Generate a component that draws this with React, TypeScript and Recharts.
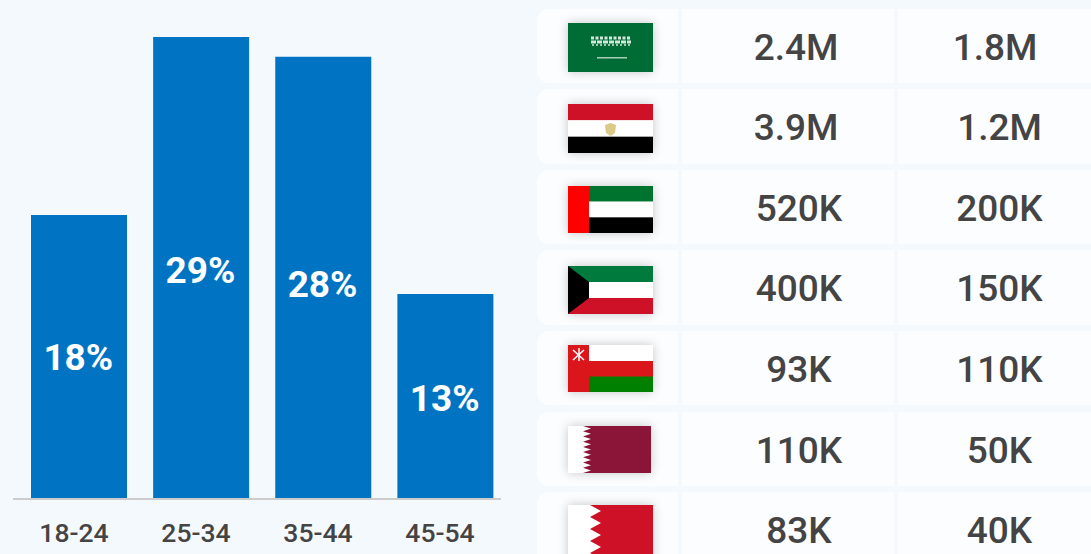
import React from "react";
import { BarChart, Bar, XAxis, YAxis, LabelList } from "recharts";

const ageGroups = ["18-24", "25-34", "35-44", "45-54"];
const agePercents = [17.8, 29, 27.75, 12.83];
const countries = ["SA", "EG", "AE", "KW", "OM", "QA", "BH"];
const firstColumn = ["2.4M", "3.9M", "520K", "400K", "93K", "110K", "83K"];
const secondColumn = ["1.8M", "1.2M", "200K", "150K", "110K", "50K", "40K"];

const chartData = ageGroups.map((age, i) => ({ age, share: agePercents[i] }));

const FONT = "Roboto, sans-serif";
const BG = "#f4f9fd";
const CELL = "#fcfdff";
const TEXT = "#444444";
const labelNudge = [1, 3, 7, 2];

const flagBoxes: Record<string, { top: number; w: number; h: number }> = {
  SA: { top: 23, w: 85, h: 49 },
  EG: { top: 104, w: 85, h: 49 },
  AE: { top: 186, w: 85, h: 47 },
  KW: { top: 266, w: 85, h: 48 },
  OM: { top: 345, w: 85, h: 47 },
  QA: { top: 426, w: 83, h: 47 },
  BH: { top: 505, w: 85, h: 60 },
};

function FlagArt({ code, w, h }: { code: string; w: number; h: number }) {
  const third = h / 3;
  if (code === "SA") {
    return (
      <g>
        <rect width={w} height={h} fill="#006c35" />
        <g stroke="#d5e6da" fill="none">
          <line x1={23} x2={63} y1={15} y2={15} strokeWidth={3} strokeDasharray="3 1.5" />
          <line x1={23} x2={63} y1={19} y2={19} strokeWidth={3} strokeDasharray="5 1" />
          <line x1={24} x2={62} y1={22} y2={22} strokeWidth={1.5} strokeDasharray="2 2" />
        </g>
        <rect x={29} y={34} width={30} height={1.5} fill="#a9cdb6" />
      </g>
    );
  }
  if (code === "EG") {
    return (
      <g>
        <rect width={w} height={third} fill="#ce1126" />
        <rect y={third} width={w} height={third} fill="#ffffff" />
        <rect y={2 * third} width={w} height={third} fill="#000000" />
        <polygon points="37,21 42.5,19 48,21 47,29 42.5,32 38,29" fill="#dcc887" />
      </g>
    );
  }
  if (code === "AE") {
    return (
      <g>
        <rect width={w} height={third} fill="#00732f" />
        <rect y={third} width={w} height={third} fill="#ffffff" />
        <rect y={2 * third} width={w} height={third} fill="#000000" />
        <rect width={21} height={h} fill="#ff0000" />
      </g>
    );
  }
  if (code === "KW") {
    return (
      <g>
        <rect width={w} height={third} fill="#007a3d" />
        <rect y={third} width={w} height={third} fill="#ffffff" />
        <rect y={2 * third} width={w} height={third} fill="#ce1126" />
        <polygon points={`0,0 21,${third} 21,${2 * third} 0,${h}`} fill="#000000" />
      </g>
    );
  }
  if (code === "OM") {
    return (
      <g>
        <rect width={w} height={h} fill="#db161b" />
        <rect x={21} width={w - 21} height={16} fill="#ffffff" />
        <rect x={21} y={31.5} width={w - 21} height={h - 31.5} fill="#008000" />
        <g stroke="#ffffff" strokeWidth={1.5}>
          <line x1={5} y1={5} x2={16} y2={15} />
          <line x1={16} y1={5} x2={5} y2={15} />
          <line x1={11} y1={3} x2={11} y2={16} />
        </g>
      </g>
    );
  }
  const zig = code === "QA" ? 9 : 5;
  const base = code === "QA" ? 15 : 22;
  const depth = code === "QA" ? 8 : 11;
  const step = h / zig / 2;
  const pts: string[] = [`${w},0`, `${w},${h}`, `${base},${h}`];
  for (let i = zig * 2 - 1; i >= 0; i--) {
    pts.push(`${i % 2 === 0 ? base : base + depth},${i * step}`);
  }
  return (
    <g>
      <rect width={w} height={h} fill="#ffffff" />
      <polygon points={pts.join(" ")} fill={code === "QA" ? "#8a1538" : "#ce1126"} />
    </g>
  );
}

function Flag({ code }: { code: string }) {
  const box = flagBoxes[code];
  return (
    <div
      style={{
        position: "absolute",
        left: 568,
        top: box.top,
        width: box.w,
        height: box.h,
        boxShadow: "0 0 10px rgba(0,0,0,0.22)",
        overflow: "hidden",
      }}
    >
      <svg width={box.w} height={box.h} style={{ display: "block", filter: "blur(0.7px)" }}>
        <FlagArt code={code} w={box.w} h={box.h} />
      </svg>
    </div>
  );
}

const renderBarLabel = (props: any) => {
  const { x, y, width, height, index, value } = props;
  return (
    <text
      x={x + width / 2 - 0.7}
      y={y + height / 2 + labelNudge[index]}
      fill="#ffffff"
      textAnchor="middle"
      dominantBaseline="central"
      fontFamily={FONT}
      fontWeight={700}
      fontSize={37}
    >
      {Math.round(value)}%
    </text>
  );
};

function Cell({ left, width, top, radius, children }: any) {
  return (
    <div
      style={{
        position: "absolute",
        left,
        top,
        width,
        height: 74.5,
        background: CELL,
        borderRadius: radius,
      }}
    >
      {children}
    </div>
  );
}

function Value({ text, center, top }: { text: string; center: number; top: number }) {
  return (
    <div
      style={{
        position: "absolute",
        left: center - 80,
        width: 160,
        top,
        height: 74.5,
        lineHeight: "78px",
        textAlign: "center",
        fontFamily: FONT,
        fontWeight: 500,
        fontSize: 37,
        color: TEXT,
      }}
    >
      {text}
    </div>
  );
}

export default function App() {
  return (
    <div
      style={{
        position: "fixed",
        left: 0,
        top: 0,
        width: 1091,
        height: 554,
        overflow: "hidden",
        background: BG,
      }}
    >
      <div style={{ position: "absolute", left: 0, top: 0 }}>
        <BarChart
          width={530}
          height={554}
          data={chartData}
          margin={{ top: 37, right: 29, bottom: 0, left: 13 }}
        >
          <YAxis hide domain={[0, 29]} padding={{ bottom: 1 }} />
          <XAxis
            xAxisId="labels"
            dataKey="age"
            height={55}
            axisLine={{ stroke: "#cccccc", strokeWidth: 2 }}
            tickLine={false}
            tick={{ fill: TEXT, fontFamily: FONT, fontWeight: 500, fontSize: 26.5 }}
            tickMargin={18}
            interval={0}
          />
          <XAxis
            xAxisId="bars"
            dataKey="age"
            hide
            height={0}
            padding={{ left: 5, right: -5.5 }}
          />
          <Bar
            xAxisId="bars"
            dataKey="share"
            fill="#0074c2"
            barSize={96}
            isAnimationActive={false}
          >
            <LabelList dataKey="share" content={renderBarLabel} />
          </Bar>
        </BarChart>
      </div>
      {countries.map((code, i) => {
        const top = 8.5 + i * 80.6;
        return (
          <React.Fragment key={code}>
            <Cell left={537} width={141} top={top} radius="12px 0 0 12px" />
            <Cell left={682} width={211.5} top={top} radius={0} />
            <Cell left={897.5} width={200} top={top} radius={0} />
            <Flag code={code} />
            <Value text={firstColumn[i]} center={i < 2 ? 796 : 799} top={top} />
            <Value text={secondColumn[i]} center={i === 0 ? 995 : 999.5} top={top} />
          </React.Fragment>
        );
      })}
    </div>
  );
}
